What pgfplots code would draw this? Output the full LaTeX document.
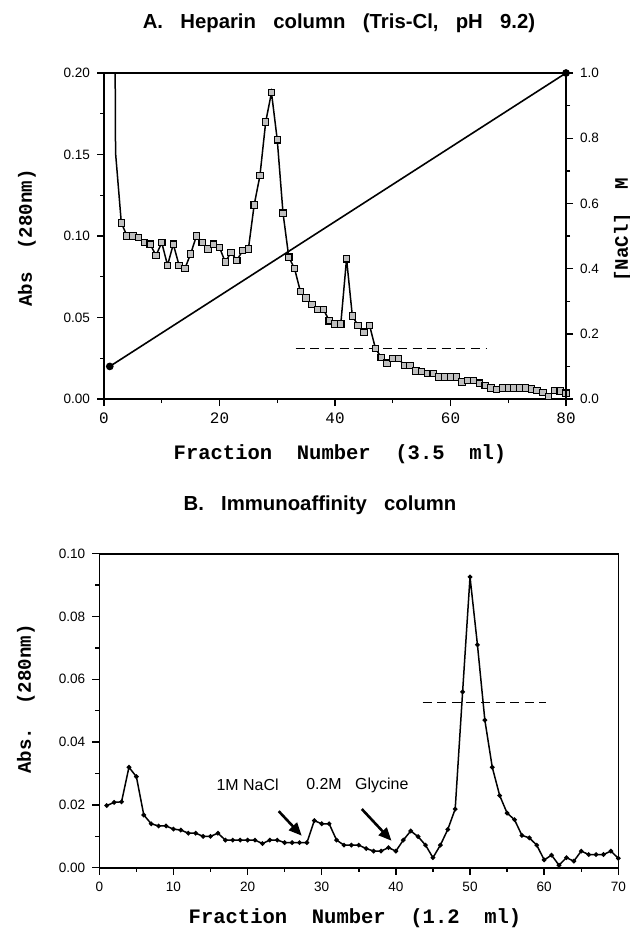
\documentclass[border=0pt]{standalone}
\usepackage{fontspec}
\setmainfont{Liberation Sans}
\setmonofont{Liberation Mono}
\usepackage{pgfplots}
\pgfplotsset{compat=1.18}
\usetikzlibrary{arrows.meta}

\newcommand\gap{\hspace{0.85em}}
\newcommand\ticksize{\fontsize{6.8}{7.5}\selectfont}
\newcommand\labfont{\ttfamily\bfseries\fontsize{10.3}{12}\selectfont}
\newcommand\ylabfont{\ttfamily\bfseries\fontsize{9.6}{11}\selectfont}
\newcommand\titlefont{\bfseries\fontsize{10.2}{11}\selectfont}

\pgfplotsset{
  panel/.style={
    scale only axis, anchor=south west,
    axis line style={line width=0.8bp},
    every tick/.style={black, line width=0.7bp},
    tick align=outside, major tick length=3.5bp, minor tick length=2bp,
    /pgf/number format/assume math mode=true,
    ticklabel style={font=\ticksize},
    scaled y ticks=false,
  },
}

\begin{document}
\begin{tikzpicture}[x=0.5bp, y=-0.5bp]
\path[use as bounding box] (0,0) rectangle (630,930);

% ---- A: heparin column ----
\begin{axis}[panel, at={(52bp,-199.5bp)}, width=231bp, height=163bp,
  xmin=0, xmax=80, ymin=0, ymax=0.2,
  xtick={0,20,40,60,80}, minor xtick={10,30,50,70},
  ytick={0,0.05,0.1,0.15,0.2}, minor ytick={0.025,0.075,0.125,0.175},
  axis y line*=left, xtick pos=left,
  yticklabel style={/pgf/number format/.cd, fixed, fixed zerofill, precision=2},
  xticklabel style={font=\ttfamily\fontsize{8}{9}\selectfont},
]
\addplot[black, line width=0.75bp, mark=square*, mark repeat=1, mark phase=2, mark size=1.6bp,
  mark options={fill=gray!50, draw=black, line width=0.55bp}] coordinates {
  (1,0.9) (2,0.151) (3,0.108) (4,0.100) (5,0.100) (6,0.099) (7,0.096) (8,0.095)
  (9,0.088) (10,0.096) (11,0.082) (12,0.095) (13,0.082) (14,0.080) (15,0.089)
  (16,0.100) (17,0.096) (18,0.092) (19,0.095) (20,0.093) (21,0.084) (22,0.090)
  (23,0.085) (24,0.091) (25,0.092) (26,0.119) (27,0.137) (28,0.170) (29,0.188)
  (30,0.159) (31,0.114) (32,0.087) (33,0.080) (34,0.066) (35,0.062) (36,0.058)
  (37,0.055) (38,0.055) (39,0.048) (40,0.046) (41,0.046) (42,0.086) (43,0.051)
  (44,0.045) (45,0.041) (46,0.045) (47,0.031) (48,0.0256) (49,0.022) (50,0.025)
  (51,0.025) (52,0.0205) (53,0.0205) (54,0.0172) (55,0.0168) (56,0.0158) (57,0.0158)
  (58,0.0135) (59,0.0135) (60,0.0135) (61,0.0135) (62,0.0105) (63,0.0113) (64,0.0113)
  (65,0.0097) (66,0.0083) (67,0.0068) (68,0.0057) (69,0.0067) (70,0.0067) (71,0.0067)
  (72,0.0067) (73,0.0067) (74,0.0061) (75,0.0053) (76,0.0040) (77,0.0016) (78,0.0053)
  (79,0.0050) (80,0.0036)};
\addplot[black, line width=0.9bp, dash pattern=on 4.5bp off 2.8bp] coordinates {(33.2,0.031) (66.4,0.031)};
\end{axis}
\begin{axis}[panel, at={(52bp,-199.5bp)}, width=231bp, height=163bp,
  xmin=0, xmax=80, ymin=0, ymax=1,
  axis x line=none, axis y line*=right, clip=false,
  ytick={0,0.2,0.4,0.6,0.8,1}, minor ytick={0.1,0.3,0.5,0.7,0.9},
  yticklabel style={/pgf/number format/.cd, fixed, fixed zerofill, precision=1},
]
\addplot[black, line width=0.8bp, mark=*, mark size=1.5bp] coordinates {(1,0.1) (80,1.0)};
\end{axis}

% ---- B: immunoaffinity column ----
\begin{axis}[panel, at={(49.65bp,-433.85bp)}, width=259.5bp, height=157bp,
  xmin=0, xmax=70, ymin=0, ymax=0.1,
  xtick={0,10,20,30,40,50,60,70}, minor xtick={5,15,25,35,45,55,65},
  ytick={0,0.02,0.04,0.06,0.08,0.1}, minor ytick={0.01,0.03,0.05,0.07,0.09},
  xtick pos=left, ytick pos=left,
  yticklabel style={/pgf/number format/.cd, fixed, fixed zerofill, precision=2},
]
\addplot[black, line width=0.75bp, mark=*, mark size=0.75bp] coordinates {
  (1,0.0198) (2,0.0208) (3,0.021) (4,0.032) (5,0.029) (6,0.0168) (7,0.014) (8,0.0133)
  (9,0.0133) (10,0.0123) (11,0.012) (12,0.011) (13,0.011) (14,0.010) (15,0.010)
  (16,0.011) (17,0.0088) (18,0.0088) (19,0.0088) (20,0.0088) (21,0.0088) (22,0.0077)
  (23,0.0088) (24,0.0088) (25,0.008) (26,0.008) (27,0.008) (28,0.008) (29,0.015)
  (30,0.014) (31,0.014) (32,0.0088) (33,0.0072) (34,0.0072) (35,0.0072) (36,0.0061)
  (37,0.0053) (38,0.0053) (39,0.0064) (40,0.0053) (41,0.0088) (42,0.0117) (43,0.0099)
  (44,0.0072) (45,0.0032) (46,0.0072) (47,0.0122) (48,0.0187) (49,0.056) (50,0.0926)
  (51,0.071) (52,0.047) (53,0.032) (54,0.023) (55,0.0174) (56,0.0153) (57,0.0103)
  (58,0.0095) (59,0.0072) (60,0.0025) (61,0.004) (62,0.0008) (63,0.0032) (64,0.0021)
  (65,0.0053) (66,0.0042) (67,0.0042) (68,0.0042) (69,0.0053) (70,0.003)};
\addplot[black, line width=0.9bp, dash pattern=on 4.5bp off 2.8bp] coordinates {(43.6,0.0526) (60.2,0.0526)};
\node[font=\fontsize{8}{9}\selectfont] at (axis cs:20,0.0263) {1M NaCl};
\node[font=\fontsize{8}{9}\selectfont] at (axis cs:34.8,0.0263) {0.2M\gap Glycine};
\draw[line width=1.3bp, -{Triangle[length=6.5bp,width=5.5bp]}] (axis cs:24.2,0.0180) -- (axis cs:27.3,0.0102);
\draw[line width=1.3bp, -{Triangle[length=6.5bp,width=5.5bp]}] (axis cs:35.4,0.0187) -- (axis cs:39.4,0.0086);
\end{axis}

% ---- titles and axis labels ----
\node[font=\titlefont] at (339,23) {A.\gap Heparin\gap column\gap (Tris-Cl,\gap pH\gap 9.2)};
\node[font=\titlefont] at (320,505) {B.\gap Immunoaffinity\gap column};
\node[font=\labfont] at (340,454) {Fraction~~Number~~(3.5~~ml)};
\node[font=\labfont] at (355,918) {Fraction~~Number~~(1.2~~ml)};
\node[font=\ylabfont, rotate=90] at (27,238) {Abs~~(280nm)};
\node[font=\ylabfont, rotate=90] at (26,699) {Abs.~~(280nm)};
\node[font=\ylabfont, rotate=90] at (623,230) {[NaCl]~~M};
\end{tikzpicture}
\end{document}
